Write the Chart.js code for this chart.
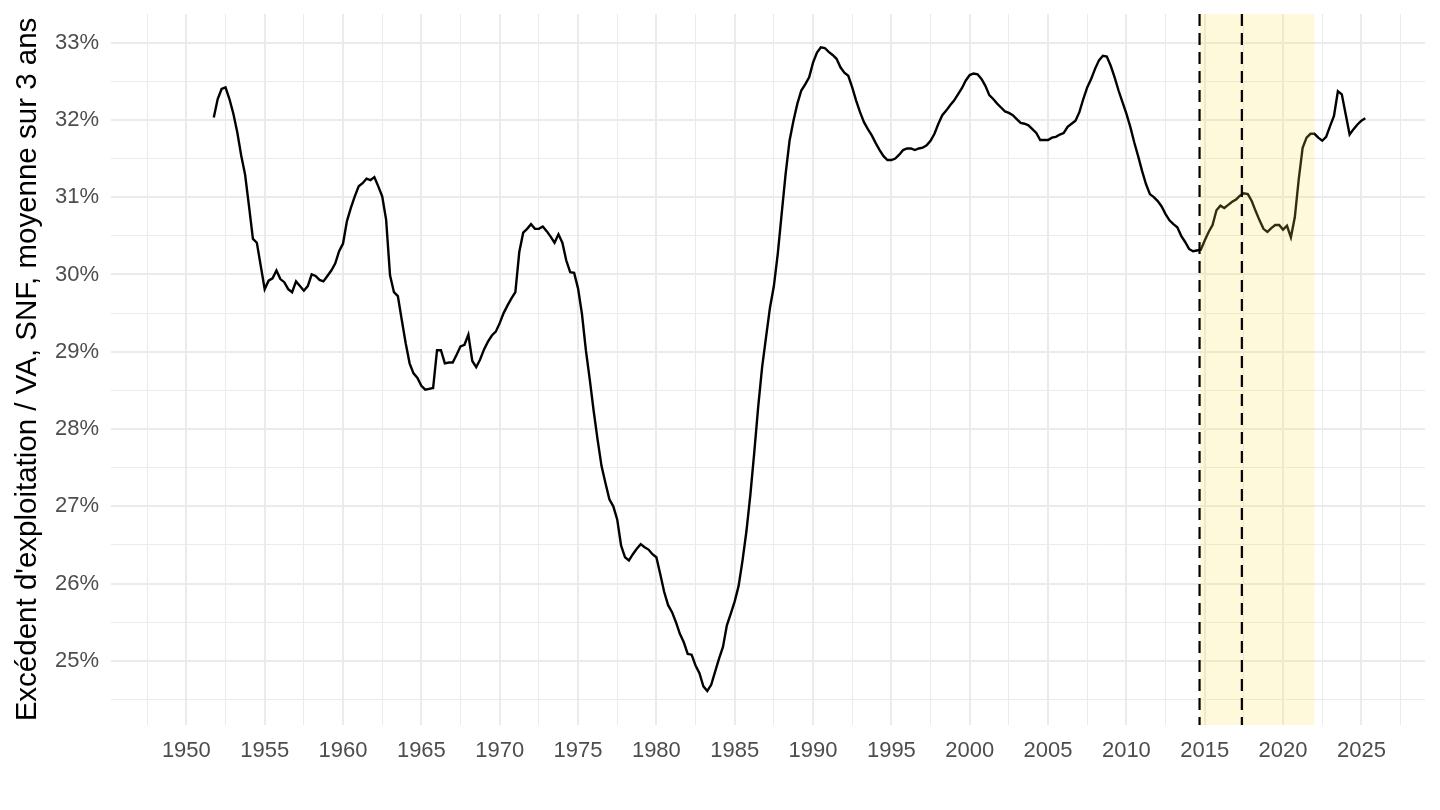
<!DOCTYPE html>
<html lang="fr">
<head>
<meta charset="UTF-8">
<title>Excédent d'exploitation / VA, SNF</title>
<script src="https://cdn.jsdelivr.net/npm/chart.js"></script>
<style>
  html, body { margin: 0; padding: 0; background: #fff; }
  #wrap { width: 1440px; height: 810px; }
</style>
</head>
<body>
<div id="wrap"><canvas id="ratioChart"></canvas></div>
<script>
// quarterly series, 3-year moving average, first point = 1951 Q4
const firstQuarter = 1951.75;
const ratioValues = [
  32.03,
  32.27, 32.40, 32.42, 32.27,  // 1952
  32.08, 31.84, 31.54, 31.29,
  30.88, 30.46, 30.41, 30.11,
  29.81, 29.92, 29.95, 30.05,  // 1955
  29.94, 29.90, 29.81, 29.77,
  29.91, 29.85, 29.79, 29.85,
  30.00, 29.98, 29.93, 29.91,
  29.98, 30.05, 30.14, 30.30,
  30.40, 30.69, 30.86, 31.01,  // 1960
  31.14, 31.18, 31.24, 31.22,
  31.26, 31.14, 31.01, 30.71,
  29.99, 29.77, 29.72, 29.41,
  29.11, 28.85, 28.72, 28.66,
  28.56, 28.51, 28.52, 28.53,  // 1965
  29.02, 29.02, 28.85, 28.86,
  28.86, 28.96, 29.07, 29.09,
  29.22, 28.88, 28.80, 28.90,
  29.03, 29.13, 29.21, 29.26,
  29.37, 29.50, 29.60, 29.69,  // 1970
  29.77, 30.29, 30.54, 30.59,
  30.65, 30.59, 30.59, 30.62,
  30.56, 30.49, 30.41, 30.52,
  30.41, 30.18, 30.03, 30.02,
  29.82, 29.49, 29.02, 28.64,  // 1975
  28.23, 27.86, 27.52, 27.30,
  27.09, 27.00, 26.83, 26.49,
  26.34, 26.30, 26.38, 26.45,
  26.51, 26.47, 26.44, 26.38,
  26.34, 26.12, 25.89, 25.72,  // 1980
  25.63, 25.50, 25.35, 25.24,
  25.09, 25.08, 24.94, 24.84,
  24.67, 24.61, 24.69, 24.86,
  25.03, 25.18, 25.46, 25.61,
  25.77, 25.97, 26.30, 26.68,  // 1985
  27.15, 27.70, 28.29, 28.80,
  29.19, 29.57, 29.85, 30.27,
  30.79, 31.30, 31.73, 31.99,
  32.21, 32.38, 32.46, 32.55,
  32.74, 32.87, 32.94, 32.93,  // 1990
  32.88, 32.84, 32.79, 32.68,
  32.61, 32.57, 32.42, 32.25,
  32.10, 31.97, 31.88, 31.80,
  31.70, 31.61, 31.53, 31.48,
  31.48, 31.50, 31.55, 31.61,  // 1995
  31.63, 31.63, 31.61, 31.63,
  31.64, 31.67, 31.73, 31.82,
  31.95, 32.06, 32.12, 32.19,
  32.25, 32.33, 32.41, 32.51,
  32.58, 32.60, 32.59, 32.53,  // 2000
  32.44, 32.32, 32.27, 32.21,
  32.16, 32.11, 32.09, 32.06,
  32.01, 31.96, 31.95, 31.93,
  31.88, 31.83, 31.74, 31.74,
  31.74, 31.77, 31.78, 31.81,  // 2005
  31.83, 31.91, 31.95, 31.99,
  32.10, 32.27, 32.42, 32.53,
  32.66, 32.77, 32.83, 32.82,
  32.70, 32.55, 32.38, 32.23,
  32.08, 31.91, 31.71, 31.53,  // 2010
  31.34, 31.17, 31.04, 31.00,
  30.95, 30.88, 30.78, 30.70,
  30.65, 30.61, 30.50, 30.42,
  30.33, 30.30, 30.31, 30.32,
  30.44, 30.55, 30.64, 30.83,  // 2015
  30.89, 30.86, 30.90, 30.94,
  30.97, 31.02, 31.05, 31.04,
  30.95, 30.82, 30.70, 30.59,
  30.55, 30.60, 30.64, 30.64,
  30.58, 30.63, 30.48, 30.74,  // 2020
  31.23, 31.64, 31.77, 31.82,
  31.82, 31.77, 31.73, 31.78,
  31.92, 32.05, 32.37, 32.33,
  32.07, 31.81, 31.88, 31.94,
  31.99, 32.02                 // 2025
];

const xTickYears = [1947.5, 1950, 1952.5, 1955, 1957.5, 1960, 1962.5, 1965, 1967.5, 1970,
  1972.5, 1975, 1977.5, 1980, 1982.5, 1985, 1987.5, 1990, 1992.5, 1995, 1997.5, 2000,
  2002.5, 2005, 2007.5, 2010, 2012.5, 2015, 2017.5, 2020, 2022.5, 2025, 2027.5];
const yTickValues = [24.5, 25, 25.5, 26, 26.5, 27, 27.5, 28, 28.5, 29, 29.5, 30,
  30.5, 31, 31.5, 32, 32.5, 33];
const xRange = [1945.19, 2029.06];
const yRange = [24.17, 33.37];

const shadedPeriod = [2014.67, 2022.0];
const dashedYears = [2014.67, 2017.37];

const points = ratioValues.map((v, i) => ({ x: firstQuarter + i / 4, y: v }));

const gridColor = '#EBEBEB';
const tickColor = '#4D4D4D';
const fontFamily = '"Liberation Sans", Arial, Helvetica, sans-serif';

// shaded period + dashed verticals drawn over the line
const periodPlugin = {
  id: 'periodPlugin',
  afterDatasetsDraw(chart) {
    const { ctx, chartArea, scales } = chart;
    const x0 = scales.x.getPixelForValue(shadedPeriod[0]);
    const x1 = scales.x.getPixelForValue(shadedPeriod[1]);
    ctx.save();
    ctx.fillStyle = 'rgba(255, 225, 80, 0.2)';
    ctx.fillRect(x0, chartArea.top, x1 - x0, chartArea.bottom - chartArea.top);
    ctx.strokeStyle = '#000';
    ctx.lineWidth = 2.2;
    ctx.setLineDash([12, 7]);
    dashedYears.forEach(yr => {
      const x = scales.x.getPixelForValue(yr);
      ctx.beginPath();
      ctx.moveTo(x, chartArea.top);
      ctx.lineTo(x, chartArea.bottom);
      ctx.stroke();
    });
    ctx.restore();
  }
};

// keep the plot area fixed, ignore label overhang padding
function noOverhang(s) {
  s.paddingTop = 0;
  s.paddingBottom = 0;
  s.paddingLeft = 0;
  s.paddingRight = 0;
}

new Chart(document.getElementById('ratioChart'), {
  type: 'line',
  data: {
    datasets: [{
      data: points,
      borderColor: '#000',
      borderWidth: 2.4,
      pointRadius: 0,
      tension: 0,
      fill: false
    }]
  },
  options: {
    responsive: true,
    maintainAspectRatio: false,
    animation: false,
    layout: { padding: { top: 14, right: 15, bottom: 0, left: 0 } },
    plugins: {
      legend: { display: false },
      tooltip: { enabled: false }
    },
    scales: {
      x: {
        type: 'linear',
        min: xRange[0],
        max: xRange[1],
        afterBuildTicks: s => { s.ticks = xTickYears.map(v => ({ value: v })); },
        afterFit: s => { s.height = 85; noOverhang(s); },
        border: { display: false },
        grid: {
          color: gridColor,
          drawTicks: false,
          lineWidth: c => (c.tick && c.tick.value % 5 === 0 ? 2 : 1)
        },
        ticks: {
          autoSkip: false,
          maxRotation: 0,
          padding: 13,
          color: tickColor,
          font: { family: fontFamily, size: 22 },
          callback: v => (v % 5 === 0 ? String(v) : '')
        }
      },
      y: {
        min: yRange[0],
        max: yRange[1],
        afterBuildTicks: s => { s.ticks = yTickValues.map(v => ({ value: v })); },
        afterFit: s => { s.width = 111; noOverhang(s); },
        border: { display: false },
        grid: {
          color: gridColor,
          drawTicks: false,
          lineWidth: c => (c.tick && Number.isInteger(c.tick.value) ? 2 : 1)
        },
        ticks: {
          autoSkip: false,
          padding: 12,
          color: tickColor,
          font: { family: fontFamily, size: 22 },
          callback: v => (Number.isInteger(v) ? v + '%' : '')
        },
        title: {
          display: true,
          text: "Excédent d'exploitation / VA, SNF, moyenne sur 3 ans",
          color: '#000',
          font: { family: fontFamily, size: 29.5 },
          padding: { top: 10, bottom: 0 }
        }
      }
    }
  },
  plugins: [periodPlugin]
});
</script>
</body>
</html>
